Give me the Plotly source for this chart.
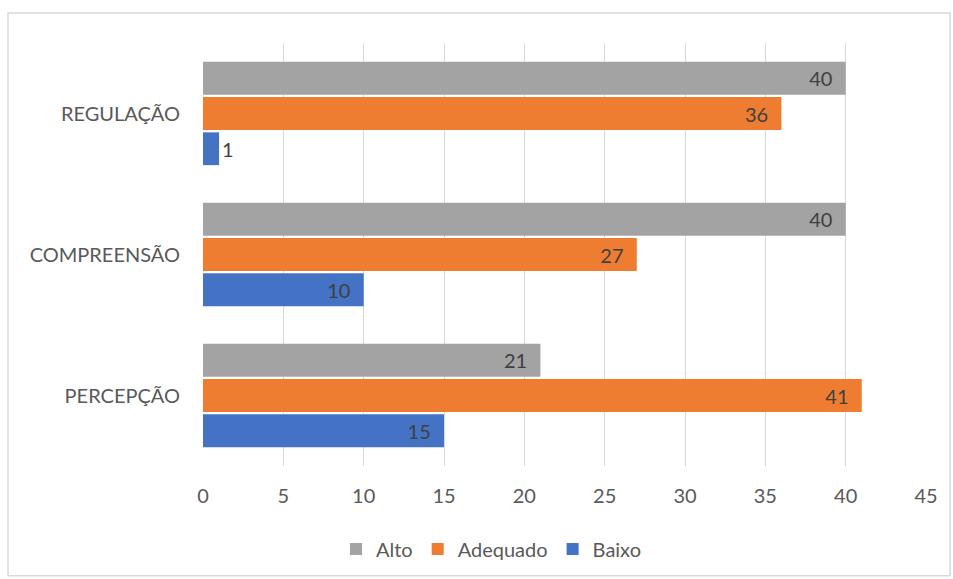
import plotly.graph_objects as go

categories = ["PERCEPÇÃO", "COMPREENSÃO", "REGULAÇÃO"]
baixo = [15, 10, 1]
adequado = [41, 27, 36]
alto = [21, 40, 40]
x_ticks = [0, 5, 10, 15, 20, 25, 30, 35, 40, 45]

W, H = 953, 579
ML, MR, MT, MB = 203, 27, 43, 112
pw, ph = W - ML - MR, H - MT - MB

font_family = "Lato, Open Sans, sans-serif"
FS = 20
series = [("Baixo", baixo, "#4472C4"), ("Adequado", adequado, "#EE7D31"), ("Alto", alto, "#A3A3A3")]

fig = go.Figure()
for name, vals, col in series:
    labels = [str(v) + ("\u00a0\u00a0" if v >= 5 else "") for v in vals]
    fig.add_trace(go.Bar(
        name=name, y=categories, x=vals, orientation="h",
        marker=dict(color=col, line=dict(width=0)),
        text=labels, textposition="auto",
        insidetextanchor="end",
        textfont=dict(size=FS, color="#404040", family=font_family),
        insidetextfont=dict(size=FS, color="#404040", family=font_family),
        outsidetextfont=dict(size=FS, color="#404040", family=font_family),
        cliponaxis=False,
    ))

def px_to_paper_x(px):
    return (px - ML) / pw

def py_to_paper_y(py):
    return (H - MB - py) / ph

fig.update_layout(
    width=W, height=H,
    margin=dict(l=ML, r=MR, t=MT, b=MB),
    barmode="group", bargap=0.25, bargroupgap=0.07,
    paper_bgcolor="white", plot_bgcolor="white",
    font=dict(family=font_family, size=FS, color="#595959"),
    xaxis=dict(range=[0, 45], tickvals=x_ticks, showgrid=True, gridcolor="#D9D9D9",
               gridwidth=1.3, zeroline=False, showline=False, ticks="",
               ticklabelstandoff=16, tickfont=dict(size=FS, color="#595959")),
    yaxis=dict(showgrid=False, zeroline=False, showline=False, ticks="",
               ticklabelstandoff=22, tickfont=dict(size=FS, color="#595959")),
    legend=dict(orientation="h", x=px_to_paper_x(491), xanchor="center", y=py_to_paper_y(549), yanchor="middle",
                traceorder="reversed", font=dict(size=FS, color="#595959"),
                itemwidth=30, itemsizing="constant"),
    showlegend=True,
    shapes=[dict(type="rect", xref="paper", yref="paper",
                 x0=px_to_paper_x(8), x1=px_to_paper_x(950),
                 y0=py_to_paper_y(577), y1=py_to_paper_y(13),
                 line=dict(color="#D9D9D9", width=1.5), fillcolor="rgba(0,0,0,0)", layer="below")],
)

fig.write_html("out.html")
